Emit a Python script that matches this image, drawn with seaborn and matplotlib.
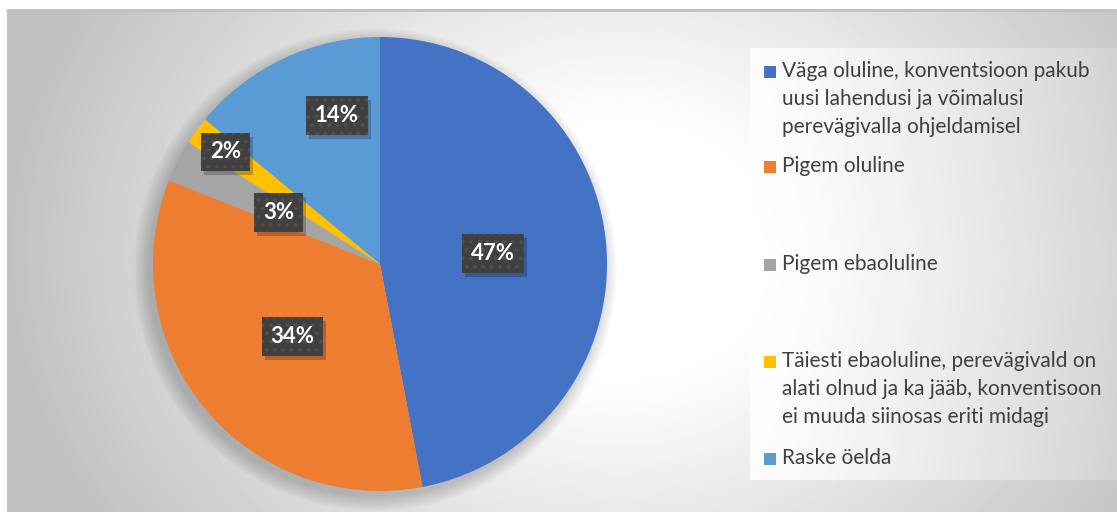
import numpy as np
import seaborn as sns
import matplotlib.pyplot as plt
import matplotlib.transforms as mtransforms
from matplotlib.patches import Rectangle, Circle

# andmed
kategooriad = ["Väga oluline, konventsioon pakub\nuusi lahendusi ja võimalusi\nperevägivalla ohjeldamisel",
               "Pigem oluline",
               "Pigem ebaoluline",
               "Täiesti ebaoluline, perevägivald on\nalati olnud ja ka jääb, konventisoon\nei muuda siinosas eriti midagi",
               "Raske öelda"]
protsendid = [47, 34, 3, 2, 14]
varvid = ["#4472C4", "#ED7D31", "#A5A5A5", "#FFC000", "#5B9BD5"]

sns.set_theme(style="white")
plt.rcParams['font.family'] = ['Lato', 'DejaVu Sans']
plt.rcParams['hatch.linewidth'] = 1.5

W, H = 1117, 512
fig = plt.figure(figsize=(W / 100, H / 100), dpi=100)
fig.patch.set_facecolor('white')

# taust (gradient) pikslikoordinaatides
bg = fig.add_axes([0, 0, 1, 1])
bg.set_xlim(0, W)
bg.set_ylim(H, 0)
bg.axis('off')
yy, xx = np.mgrid[10:H, 7:W]
d = np.hypot(xx - 620, (yy - 250) * 1.2)
v = np.clip(1 - 0.00052 * (d - 150), 0.76, 1)
bg.imshow(v, cmap='gray', vmin=0, vmax=1, extent=(7, W, H, 10), aspect='auto', zorder=0)
bg.plot([7, W], [10, 10], color='#c0c0c0', lw=2, zorder=1)

# legendi paneel
gx = np.linspace(0, 1, 367)
gy = np.linspace(0, 1, 432)[:, None]
pan = 1 - 0.16 * gx[None, :] ** 1.3 - 0.03 * np.abs(gy - 0.5)
bg.imshow(pan, cmap='gray', vmin=0, vmax=1, extent=(750, W, 480, 48), aspect='auto', zorder=1)

# pirukas
R = 227
cx, cy = 380, 264
s = 1.1
ax = fig.add_axes([(cx - R * s) / W, (H - cy - R * s) / H, 2 * R * s / W, 2 * R * s / H])
ax.patch.set_alpha(0)
for k in range(10):
    ax.add_patch(Circle((-0.02, -0.025), 1 + 0.007 * k, color='black', alpha=0.018, lw=0, zorder=0))
wedges, _ = ax.pie(protsendid, colors=sns.color_palette(varvid), startangle=90, counterclock=False,
                   wedgeprops=dict(linewidth=0))
ax.set_xlim(-s, s)
ax.set_ylim(-s, s)
ax.set_aspect('equal')

label_r = [0.5, 0.5, 0.5, 0.84, 0.68]
label_shift = [0, 0, 0, 0, -9]
sildid = []
for w, p, r, sh in zip(wedges, protsendid, label_r, label_shift):
    a = np.deg2rad((w.theta1 + w.theta2) / 2 + sh)
    t = ax.text(r * np.cos(a), r * np.sin(a), f"{p}%", ha='center', va='center', fontsize=16,
                fontweight='bold', color='white', zorder=4,
                bbox=dict(boxstyle='square,pad=0.4', facecolor='#404040', edgecolor='#505050',
                          hatch='..', lw=0))
    sildid.append(t)

# siltide varjud
fig.canvas.draw()
for t in sildid:
    bb = t.get_bbox_patch().get_window_extent()
    ax.add_patch(Rectangle((bb.x0 + 3, bb.y0 - 4), bb.width, bb.height, facecolor='black', alpha=0.22,
                           lw=0, transform=mtransforms.IdentityTransform(), zorder=3))

# legend
first_line_y = [72, 167, 265, 362, 459]
for lbl, c, y in zip(kategooriad, varvid, first_line_y):
    bg.add_patch(Rectangle((764, y - 6), 12, 12, facecolor=c, lw=0, zorder=3))
    bg.text(782, y - 11, lbl, ha='left', va='top', fontsize=15, color='#404040',
            linespacing=1.5, zorder=3)

fig.savefig('out.png', dpi=100)
